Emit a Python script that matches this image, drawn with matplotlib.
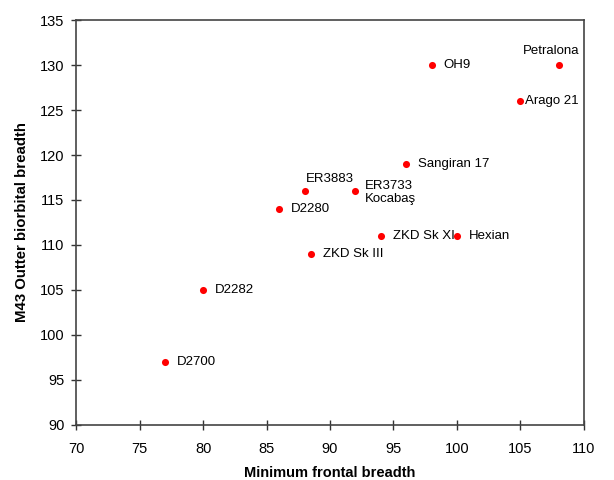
import matplotlib.pyplot as plt

plt.rcParams['font.family'] = ['Liberation Sans', 'DejaVu Sans']

# specimen measurements
names = ['Petralona', 'OH9', 'Arago 21', 'Sangiran 17', 'ER3883', 'ER3733\nKocabaş',
         'D2280', 'ZKD Sk XI', 'Hexian', 'ZKD Sk III', 'D2282', 'D2700']
frontal = [108, 98, 105, 96, 88, 92, 86, 94, 100, 88.5, 80, 77]
biorbital = [130, 130, 126, 119, 116, 116, 114, 111, 111, 109, 105, 97]

# label placement (offset in points, horizontal alignment)
default_pos = ((8.5, 0), 'left')
label_pos = {
    'Petralona': ((-5, 10), 'center'),
    'Arago 21': ((3, 0), 'left'),
    'ER3883': ((1, 9), 'left'),
    'ER3733\nKocabaş': ((7, -1), 'left'),
}

fig = plt.figure(figsize=(6.14, 4.8), dpi=100)
ax = fig.add_axes([0.124, 0.115, 0.827, 0.843])

ax.scatter(frontal, biorbital, s=26, color='#ff0000', zorder=3, linewidths=0)

for name, x, y in zip(names, frontal, biorbital):
    off, ha = label_pos.get(name, default_pos)
    ax.annotate(name, (x, y), xytext=off, textcoords='offset points',
                ha=ha, va='center', fontsize=9.5, linespacing=1.1)

ax.set_xlim(70, 110)
ax.set_ylim(90, 135)
ax.set_xticks(range(70, 111, 5))
ax.set_yticks(range(90, 136, 5))
ax.tick_params(direction='inout', length=7, width=1, labelsize=10.5, color='#333333')
ax.tick_params(axis='x', pad=9)
ax.tick_params(axis='y', pad=5)
for sp in ax.spines.values():
    sp.set_color('#444444')
    sp.set_linewidth(1.2)

ax.set_xlabel('Minimum frontal breadth', fontsize=10.5, fontweight='bold', labelpad=7)
ax.set_ylabel('M43 Outter biorbital breadth', fontsize=10.8, fontweight='bold', labelpad=8)

fig.savefig('out.png', dpi=100)
